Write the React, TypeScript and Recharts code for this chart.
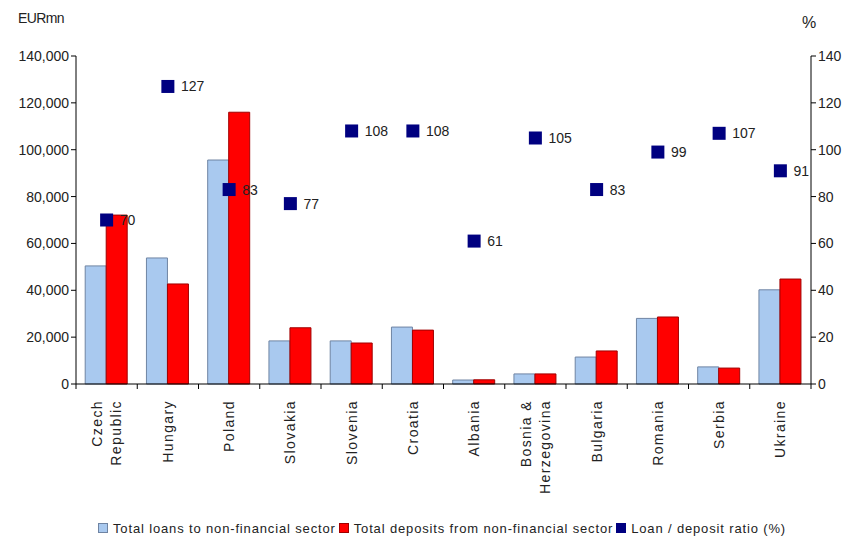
import { Bar, ComposedChart, Label, Legend, Line, XAxis, YAxis } from 'recharts'

const countries = [
  'Czech\nRepublic',
  'Hungary',
  'Poland',
  'Slovakia',
  'Slovenia',
  'Croatia',
  'Albania',
  'Bosnia &\nHerzegovina',
  'Bulgaria',
  'Romania',
  'Serbia',
  'Ukraine',
]
const loans = [50400, 53800, 95600, 18400, 18400, 24300, 1700, 4300, 11500, 28000, 7300, 40200]
const deposits = [72100, 42700, 116000, 24000, 17500, 23000, 1800, 4300, 14100, 28600, 6800, 44800]
const ratio = [70, 127, 83, 77, 108, 108, 61, 105, 83, 99, 107, 91]
const leftTicks = [0, 20000, 40000, 60000, 80000, 100000, 120000, 140000]
const rightTicks = [0, 20, 40, 60, 80, 100, 120, 140]

const data = countries.map((name, i) => ({ name, loans: loans[i], deposits: deposits[i], ratio: ratio[i] }))

const FONT = '"Liberation Sans", Arial, sans-serif'
const W = 849
const H = 538
const MARGIN = { top: 56, right: 0, bottom: 0, left: 6 }
const LEFT_W = 70
const RIGHT_W = 38
const BAND = (W - MARGIN.left - MARGIN.right - LEFT_W - RIGHT_W) / countries.length

function CategoryTick({ x, y, payload, index }: any) {
  const lines = String(payload.value).split('\n')
  const lh = 19
  const first = -((lines.length - 1) / 2) * lh
  return (
    <g>
      <line x1={x - BAND / 2} x2={x - BAND / 2} y1={y} y2={y + 5} stroke="#000" />
      {index === countries.length - 1 && <line x1={x + BAND / 2} x2={x + BAND / 2} y1={y} y2={y + 5} stroke="#000" />}
      {lines.map((ln, i) => (
        <text
          key={i}
          x={x + first + i * lh + 5}
          y={y + 16}
          transform={`rotate(-90, ${x + first + i * lh + 5}, ${y + 16})`}
          textAnchor="end"
          fontFamily={FONT}
          fontSize={14}
          letterSpacing={1.4}
          fill="#222"
        >
          {ln}
        </text>
      ))}
    </g>
  )
}

function RatioDot({ cx, cy, value }: any) {
  if (cx == null || cy == null) return null
  return (
    <g>
      <rect x={cx - 6.5} y={cy - 6.5} width={13} height={13} fill="#000080" />
      <text x={cx + 13} y={cy + 5} fontFamily={FONT} fontSize={14} fill="#222">
        {value}
      </text>
    </g>
  )
}

const legendItems = [
  { label: 'Total loans to non-financial sector', fill: '#a9c9ef', stroke: '#6f84a3' },
  { label: 'Total deposits from non-financial sector', fill: '#ff0000', stroke: '#a00000' },
  { label: 'Loan / deposit ratio (%)', fill: '#000080', stroke: '#000080' },
]

function LegendContent() {
  return (
    <div
      style={{
        height: 20,
        display: 'flex',
        justifyContent: 'center',
        alignItems: 'center',
        paddingLeft: 32,
        fontFamily: FONT,
        fontSize: 13,
        letterSpacing: 0.85,
        color: '#222',
      }}
    >
      {legendItems.map((it) => (
        <span key={it.label} style={{ display: 'flex', alignItems: 'center', marginRight: 3 }}>
          <span
            style={{
              width: 8,
              height: 8,
              background: it.fill,
              border: `1px solid ${it.stroke}`,
              marginRight: 5,
              display: 'inline-block',
            }}
          />
          {it.label}
        </span>
      ))}
    </div>
  )
}

export default function App() {
  return (
    <div style={{ position: 'absolute', left: 0, top: 0, width: W, height: H, background: '#fff' }}>
      <ComposedChart width={W} height={H} data={data} margin={MARGIN} barCategoryGap="15%" barGap={0}>
        <XAxis
          dataKey="name"
          interval={0}
          height={134}
          tickSize={0}
          tickMargin={0}
          tickLine={false}
          axisLine={{ stroke: '#000' }}
          tick={<CategoryTick />}
        />
        <YAxis
          yAxisId="left"
          width={LEFT_W}
          domain={[0, 140000]}
          ticks={leftTicks}
          interval={0}
          tickFormatter={(v: number) => v.toLocaleString('en-US')}
          axisLine={{ stroke: '#000' }}
          tickLine={{ stroke: '#000' }}
          tickSize={5}
          tick={{ fontFamily: FONT, fontSize: 14, fill: '#222' }}
        >
          <Label
            content={() => (
              <text x={18} y={23} fontFamily={FONT} fontSize={14} letterSpacing={-0.6} fill="#222">
                EURmn
              </text>
            )}
          />
        </YAxis>
        <YAxis
          yAxisId="right"
          orientation="right"
          width={RIGHT_W}
          domain={[0, 140]}
          ticks={rightTicks}
          interval={0}
          axisLine={{ stroke: '#000' }}
          tickLine={{ stroke: '#000' }}
          tickSize={5}
          tick={{ fontFamily: FONT, fontSize: 14, fill: '#222', textAnchor: 'start' }}
        >
          <Label
            content={() => (
              <text x={802} y={28} fontFamily={FONT} fontSize={16} fill="#222">
                %
              </text>
            )}
          />
        </YAxis>
        <Bar yAxisId="left" dataKey="loans" fill="#a9c9ef" stroke="#6f84a3" strokeWidth={1} isAnimationActive={false} />
        <Bar yAxisId="left" dataKey="deposits" fill="#ff0000" stroke="#a00000" strokeWidth={1} isAnimationActive={false} />
        <Line
          yAxisId="right"
          dataKey="ratio"
          stroke="none"
          dot={<RatioDot />}
          activeDot={false}
          legendType="none"
          isAnimationActive={false}
        />
        <Legend verticalAlign="bottom" content={<LegendContent />} />
      </ComposedChart>
    </div>
  )
}
